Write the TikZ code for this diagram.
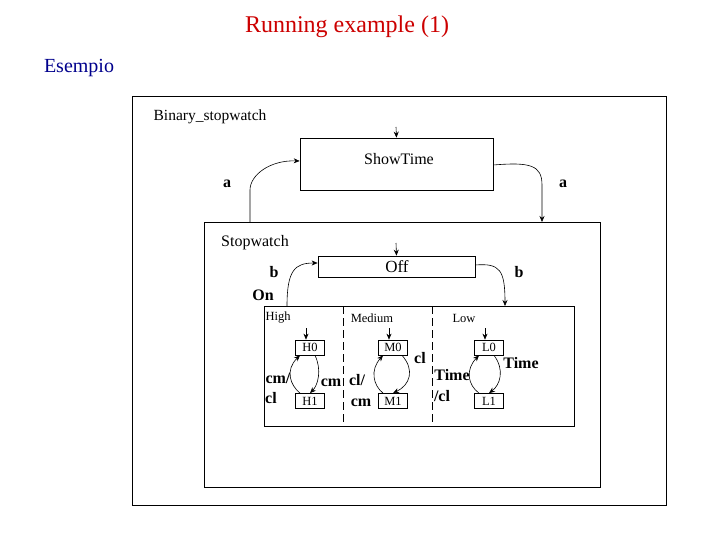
\documentclass[tikz,border=0pt]{standalone}
\usepackage{fontspec}
\setmainfont{Liberation Serif}
\usetikzlibrary{arrows.meta}
\definecolor{titlered}{RGB}{204,0,0}
\definecolor{navy}{RGB}{0,0,140}
\begin{document}
\begin{tikzpicture}[x=1pt,y=-1pt,
  box/.style={draw,line width=0.7pt},
  st/.style={draw,line width=0.7pt,minimum height=15,inner sep=0pt},
  tr/.style={-{Stealth[length=6pt,width=5pt]},line width=0.6pt},
  lbl/.style={font=\fontsize{16}{16}\selectfont\bfseries},
  small/.style={font=\fontsize{12.5}{12.5}\selectfont}]
\useasboundingbox (0,0) rectangle (720,540);
\node[text=titlered,font=\fontsize{24}{24}\selectfont] (title) at (347,27) {Running example (1)};
\node[text=navy,font=\fontsize{20}{20}\selectfont] (esempio) at (79,68) {Esempio};
% outer
\draw[box] (132,96) rectangle (666,505);
\node[font=\fontsize{15.5}{15.5}\selectfont] (bsw) at (210,117) {Binary\_stopwatch};
\node[st,minimum width=193,minimum height=52] (show) at (396.5,164) {};
\node[font=\fontsize{16}{16}\selectfont] (showt) at (399,159) {ShowTime};
\coordinate (i0) at (396,127);
\draw[tr] (i0) -- (show.north);
% stopwatch
\draw[box] (204,222) rectangle (600,487);
\node[font=\fontsize{16}{16}\selectfont] (swl) at (255,243) {Stopwatch};
\coordinate (swtl) at (250,222);
\coordinate (swtr) at (542,222);
\draw[tr] (swtl) -- (250,190) .. controls (250,175) and (270,160) .. (show.west |- 0,161);
\draw[tr] (show.east |- 0,165) .. controls (530,162) and (542,165) .. (542,185) -- (swtr);
\node[lbl] (a1) at (227,184) {a};
\node[lbl] (a2) at (563,184) {a};
% off
\node[st,minimum width=157,minimum height=21] (off) at (396.5,266.5) {};
\node[font=\fontsize{17}{17}\selectfont] (offt) at (397,267) {Off};
\coordinate (i1) at (396,243);
\draw[tr] (i1) -- (off.north);
\coordinate (ontl) at (287,306);
\coordinate (ontr) at (505,306);
\draw[tr] (ontl) .. controls (287,270) and (295,263) .. (off.west |- 0,263);
\draw[tr] (off.east |- 0,265) .. controls (500,263) and (505,270) .. (ontr);
\node[lbl] (b1) at (274,272) {b};
\node[lbl] (on) at (263,295) {On};
\node[lbl] (b2) at (519,272) {b};
% on
\draw[box] (264,306) rectangle (574,426);
\draw[dash pattern=on 8pt off 4pt,line width=0.6pt] (343,306) -- (343,426);
\draw[dash pattern=on 8pt off 4pt,line width=0.6pt] (432,306) -- (432,426);
\node[small] (high) at (278,318) {High};
\node[small] (med) at (372,318) {Medium};
\node[small] (low) at (464,318) {Low};
\foreach \n/\x in {H/310,M/393,L/489}{
  \node[st,minimum width=29,small] (\n0) at (\x,347.5) {\n0};
  \node[st,minimum width=29,small] (\n1) at (\x,401) {\n1};
  \coordinate (\n i) at (\x-4,328);
  \draw[tr] (\n i) -- (\n i |- \n0.north);
}
\draw[tr] ([xshift=5]H0.south) .. controls (322,370) and (318,385) .. ([xshift=0]H1.north);
\draw[tr] ([xshift=-10]H1.north) .. controls (290,385) and (285,370) .. ([xshift=-10]H0.south);
\draw[tr] ([xshift=9]M0.south) .. controls (415,370) and (410,385) .. ([xshift=0]M1.north);
\draw[tr] ([xshift=-10]M1.north) .. controls (373,385) and (370,370) .. ([xshift=-10]M0.south);
\draw[tr] ([xshift=5]L0.south) .. controls (505,370) and (500,385) .. ([xshift=0]L1.north);
\draw[tr] ([xshift=-10]L1.north) .. controls (468,385) and (465,370) .. ([xshift=-10]L0.south);
\node[lbl] (t1) at (278,378) {cm/};
\node[lbl] (t2) at (271,398) {cl};
\node[lbl] (t3) at (331,383) {cm};
\node[lbl] (t4) at (420,358) {cl};
\node[lbl] (t5) at (357,380) {cl/};
\node[lbl] (t6) at (361,403) {cm};
\node[lbl] (t7) at (521,363) {Time};
\node[lbl] (t8) at (452,375) {Time};
\node[lbl] (t9) at (442,396) {/cl};
\end{tikzpicture}
\end{document}
